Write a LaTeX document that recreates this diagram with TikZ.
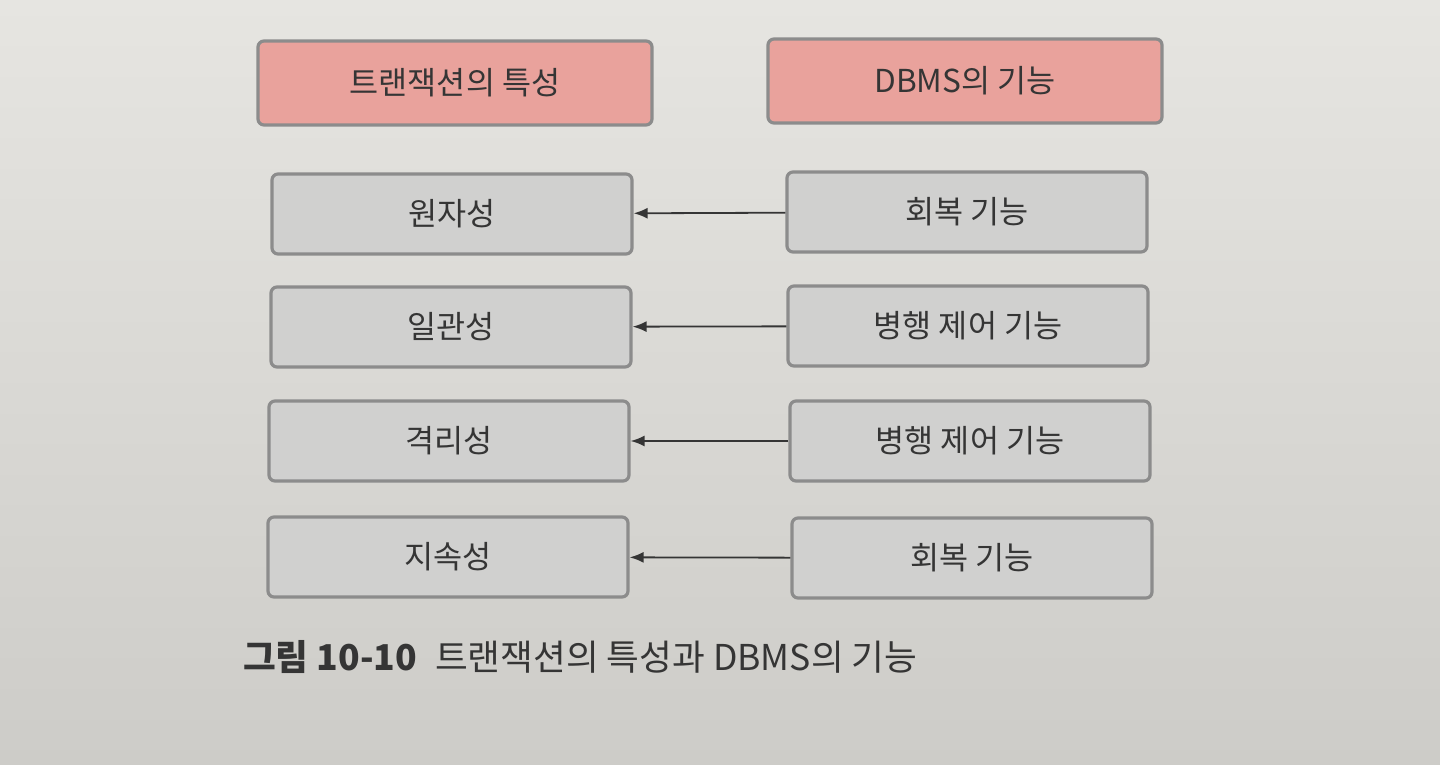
\documentclass[tikz,border=0pt]{standalone}
\usepackage{fontspec}
\usetikzlibrary{arrows.meta}
\setmainfont{Noto Sans CJK KR}
\definecolor{paper}{HTML}{E6E5E1}
\definecolor{paperdark}{HTML}{CDCCC8}
\definecolor{headfill}{HTML}{E9A29C}
\definecolor{boxfill}{HTML}{D0D0CF}
\definecolor{boxline}{HTML}{8C8C8C}
\definecolor{ink}{HTML}{353535}
\begin{document}
\begin{tikzpicture}[x=0.5pt, y=-0.5pt,
    head/.style={draw=boxline, line width=1.6pt, fill=headfill, rounded corners=3pt,
      minimum width=197pt, minimum height=42pt, inner sep=0pt, text=ink, font=\fontsize{15.8}{17}\selectfont},
    item/.style={draw=boxline, line width=1.6pt, fill=boxfill, rounded corners=3pt,
      minimum width=180pt, minimum height=40pt, inner sep=0pt, text=ink, font=\fontsize{15.8}{17}\selectfont},
    link/.style={-{Latex[length=7pt, width=5.5pt]}, line width=0.9pt, draw=ink}]

    \shade[top color=paper, bottom color=paperdark] (0,0) rectangle (1440,765);
    \useasboundingbox (0,0) rectangle (1440,765);

    \node[head] (propHead) at (455,83) {트랜잭션의 특성};
    \node[head] (funcHead) at (965,81) {DBMS의 기능};

    \node[item] (atom) at (452,214) {원자성};
    \node[item] (cons) at (451,327) {일관성};
    \node[item] (isol) at (449,441) {격리성};
    \node[item] (dura) at (448,557) {지속성};

    \node[item] (rec1) at (967,212) {회복 기능};
    \node[item] (conc1) at (968,326) {병행 제어 기능};
    \node[item] (conc2) at (970,441) {병행 제어 기능};
    \node[item] (rec2) at (972,558) {회복 기능};

    \draw[link] (rec1) -- (atom);
    \draw[link] (conc1) -- (cons);
    \draw[link] (conc2) -- (isol);
    \draw[link] (rec2) -- (dura);

    \node[anchor=west, text=ink, font=\fontsize{17.8}{19}\selectfont] (caption) at (236,657)
      {{\bfseries 그림 10-10}\hspace{9pt}트랜잭션의 특성과 DBMS의 기능};

  \end{tikzpicture}
\end{document}
